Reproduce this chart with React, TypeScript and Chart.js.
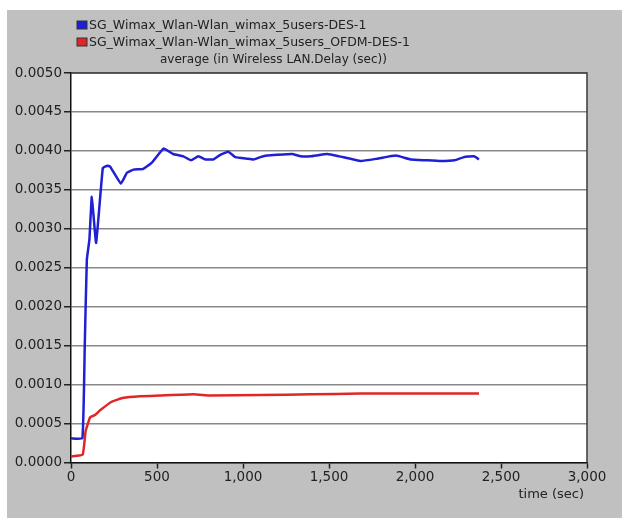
import React, { useEffect, useRef } from "react";
import { Chart, registerables } from "chart.js";

Chart.register(...registerables);

const blueTime = [0, 66, 80, 92, 107, 121, 146, 185, 212, 227, 290, 325, 363, 421, 470, 538, 594, 653, 698, 740, 781, 828, 868, 915, 956, 1024, 1061, 1101, 1140, 1199, 1286, 1335, 1393, 1490, 1560, 1684, 1780, 1888, 1976, 2060, 2150, 2230, 2284, 2343, 2372];
const blueDelay = [0.00031, 0.00031, 0.0015, 0.0026, 0.00286, 0.00341, 0.00282, 0.00378, 0.00381, 0.0038, 0.00358, 0.00372, 0.00376, 0.00377, 0.00385, 0.00403, 0.00396, 0.00393, 0.00388, 0.00393, 0.00389, 0.00389, 0.00395, 0.00399, 0.00392, 0.0039, 0.00389, 0.00392, 0.00394, 0.00395, 0.00396, 0.00393, 0.00393, 0.00396, 0.00393, 0.00387, 0.0039, 0.00394, 0.00389, 0.00388, 0.00387, 0.00388, 0.00392, 0.00393, 0.00389];

const redTime = [0, 68, 85, 111, 140, 169, 237, 305, 402, 519, 713, 810, 1101, 1400, 1684, 2000, 2372];
const redDelay = [0.000077, 0.0001, 0.0004, 0.00058, 0.00061, 0.00067, 0.00078, 0.00083, 0.00085, 0.00086, 0.000876, 0.00086, 0.000867, 0.000875, 0.000885, 0.000885, 0.000885];

const seriesLabels = [
  "SG_Wimax_Wlan-Wlan_wimax_5users-DES-1",
  "SG_Wimax_Wlan-Wlan_wimax_5users_OFDM-DES-1",
];
const chartTitle = "average (in Wireless LAN.Delay (sec))";
const xTitle = "time (sec)";
const xTicks = [0, 500, 1000, 1500, 2000, 2500, 3000];
const yTicks = [0, 0.0005, 0.001, 0.0015, 0.002, 0.0025, 0.003, 0.0035, 0.004, 0.0045, 0.005];

const BLUE = "#1f1fd6";
const RED = "#e02626";
const FONT = "DejaVu Sans";

const decorPlugin = {
  id: "decor",
  beforeDraw(chart: any) {
    const { ctx, chartArea: a } = chart;
    ctx.save();
    ctx.fillStyle = "#ffffff";
    ctx.fillRect(0, 0, chart.width, chart.height);
    ctx.fillStyle = "#c0c0c0";
    ctx.fillRect(7, 10, chart.width - 7, chart.height - 10);
    ctx.fillStyle = "#ffffff";
    ctx.fillRect(a.left, a.top, a.right - a.left, a.bottom - a.top);
    ctx.restore();
  },
  afterDraw(chart: any) {
    const { ctx, chartArea: a } = chart;
    ctx.save();
    ctx.strokeStyle = "#3a3a3a";
    ctx.lineWidth = 1.5;
    ctx.beginPath();
    ctx.moveTo(a.left, a.top);
    ctx.lineTo(a.right, a.top);
    ctx.lineTo(a.right, a.bottom);
    ctx.stroke();

    // legend
    const colors = [BLUE, RED];
    const ys = [25, 42];
    ctx.font = `12.5px ${FONT}`;
    ctx.textBaseline = "middle";
    ctx.textAlign = "left";
    seriesLabels.forEach((lab, i) => {
      ctx.fillStyle = colors[i];
      ctx.fillRect(77, ys[i] - 4, 10, 8);
      ctx.strokeStyle = "#333";
      ctx.lineWidth = 1;
      ctx.strokeRect(77, ys[i] - 4, 10, 8);
      ctx.fillStyle = "#222";
      ctx.fillText(lab, 89, ys[i] + 0.5);
    });

    // title
    ctx.font = `12px ${FONT}`;
    ctx.fillStyle = "#222";
    ctx.fillText(chartTitle, 160, 60);

    // x title
    ctx.textAlign = "right";
    ctx.font = `13px ${FONT}`;
    ctx.fillText(xTitle, 584, 495);
    ctx.restore();
  },
};

export default function App() {
  const ref = useRef<HTMLCanvasElement>(null);
  useEffect(() => {
    if (!ref.current) return;
    const chart = new Chart(ref.current, {
      type: "line",
      data: {
        datasets: [
          {
            label: seriesLabels[0],
            data: blueTime.map((t, i) => ({ x: t, y: blueDelay[i] })),
            borderColor: BLUE,
            borderWidth: 2.5,
            pointRadius: 0,
            tension: 0.1,
          },
          {
            label: seriesLabels[1],
            data: redTime.map((t, i) => ({ x: t, y: redDelay[i] })),
            borderColor: RED,
            borderWidth: 2.5,
            pointRadius: 0,
            tension: 0.1,
          },
        ],
      },
      plugins: [decorPlugin],
      options: {
        responsive: false,
        animation: false,
        layout: { padding: { top: 73, right: 35, left: 0, bottom: 0 } },
        plugins: { legend: { display: false }, title: { display: false }, tooltip: { enabled: false } },
        scales: {
          x: {
            type: "linear",
            min: 0,
            max: 3000,
            afterBuildTicks: (s: any) => { s.ticks = xTicks.map((v) => ({ value: v })); },
            afterFit: (s: any) => { s.height = 55.5; },
            ticks: {
              color: "#222",
              font: { family: FONT, size: 13.5 },
              padding: 1,
              maxRotation: 0,
              callback: (v: any) => Number(v).toLocaleString("en-US"),
            },
            grid: { drawOnChartArea: false, drawTicks: true, tickLength: 6, tickColor: "#222", tickWidth: 1.5 },
            border: { color: "#111", width: 1.5 },
          },
          y: {
            min: 0,
            max: 0.005,
            afterBuildTicks: (s: any) => { s.ticks = yTicks.map((v) => ({ value: v })); },
            afterFit: (s: any) => { s.width = 71; },
            ticks: {
              color: "#222",
              font: { family: FONT, size: 13.5 },
              padding: 2,
              callback: (v: any) => Number(v).toFixed(4),
            },
            grid: { color: "#888888", lineWidth: 1.5, drawTicks: true, tickLength: 7, tickColor: "#222", tickWidth: 1.5 },
            border: { color: "#111", width: 1.5 },
          },
        },
      },
    });
    return () => chart.destroy();
  }, []);
  return (
    <div style={{ position: "fixed", left: 0, top: 0, width: 622, height: 518 }}>
      <canvas ref={ref} width={622} height={518} style={{ width: 622, height: 518 }} />
    </div>
  );
}
